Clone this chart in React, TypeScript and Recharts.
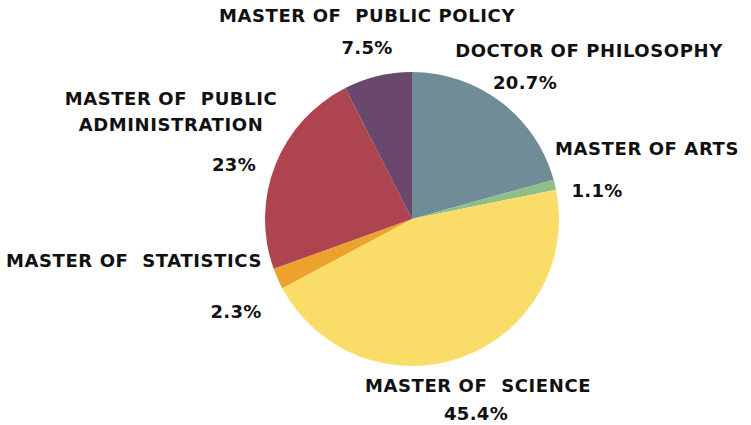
import { PieChart, Pie, Cell } from "recharts";

// degree programs, clockwise from 12 o'clock
const programs = [
  "DOCTOR OF PHILOSOPHY",
  "MASTER OF ARTS",
  "MASTER OF  SCIENCE",
  "MASTER OF  STATISTICS",
  "MASTER OF  PUBLIC ADMINISTRATION",
  "MASTER OF  PUBLIC POLICY",
];
const shares = [20.7, 1.1, 45.4, 2.3, 23, 7.5];
const colors = ["#6f8c97", "#8fbe88", "#fadd69", "#eca22c", "#ad4450", "#6a476d"];

// label placement relative to the pie centre (title lines + percent line)
const labelLayout = [
  { lines: ["DOCTOR OF PHILOSOPHY"], tx: 177, ty: -162, px: 113, py: -130 },
  { lines: ["MASTER OF ARTS"], tx: 235, ty: -64, px: 185, py: -22 },
  { lines: ["MASTER OF  SCIENCE"], tx: 66, ty: 173, px: 64, py: 201 },
  { lines: ["MASTER OF  STATISTICS"], tx: -278, ty: 48, px: -176, py: 99 },
  { lines: ["MASTER OF  PUBLIC", "ADMINISTRATION"], tx: -241, ty: -114, px: -178, py: -48 },
  { lines: ["MASTER OF  PUBLIC POLICY"], tx: -45, ty: -197, px: -45, py: -165 },
];

const data = programs.map((name, i) => ({ name, value: shares[i] }));

const FONT = "'DejaVu Sans', sans-serif";

function renderLabel(props: any) {
  const { cx, cy, index } = props;
  const l = labelLayout[index];
  return (
    <g key={`lbl-${index}`}>
      {l.lines.map((line, j) => (
        <text
          key={j}
          x={cx + l.tx}
          y={cy + l.ty + j * 26}
          textAnchor="middle"
          fontFamily={FONT}
          fontWeight="bold"
          fontSize={18}
          letterSpacing={0.6}
          fill="#111"
          style={{ whiteSpace: "pre" }}
        >
          {line}
        </text>
      ))}
      <text
        x={cx + l.px}
        y={cy + l.py}
        textAnchor="middle"
        fontFamily={FONT}
        fontWeight="bold"
        fontSize={18}
        letterSpacing={0.3}
        fill="#111"
      >
        {`${shares[index]}%`}
      </text>
    </g>
  );
}

export default function App() {
  return (
    <div style={{ position: "absolute", left: 0, top: 0, width: 751, height: 425, background: "#fff" }}>
      <PieChart width={751} height={425} margin={{ top: 0, right: 0, bottom: 0, left: 0 }}>
        <Pie
          data={data}
          dataKey="value"
          nameKey="name"
          cx={412}
          cy={219}
          outerRadius={147}
          startAngle={90}
          endAngle={-270}
          stroke="none"
          label={renderLabel}
          labelLine={false}
          isAnimationActive={false}
        >
          {data.map((d, i) => (
            <Cell key={d.name} fill={colors[i]} />
          ))}
        </Pie>
      </PieChart>
    </div>
  );
}
